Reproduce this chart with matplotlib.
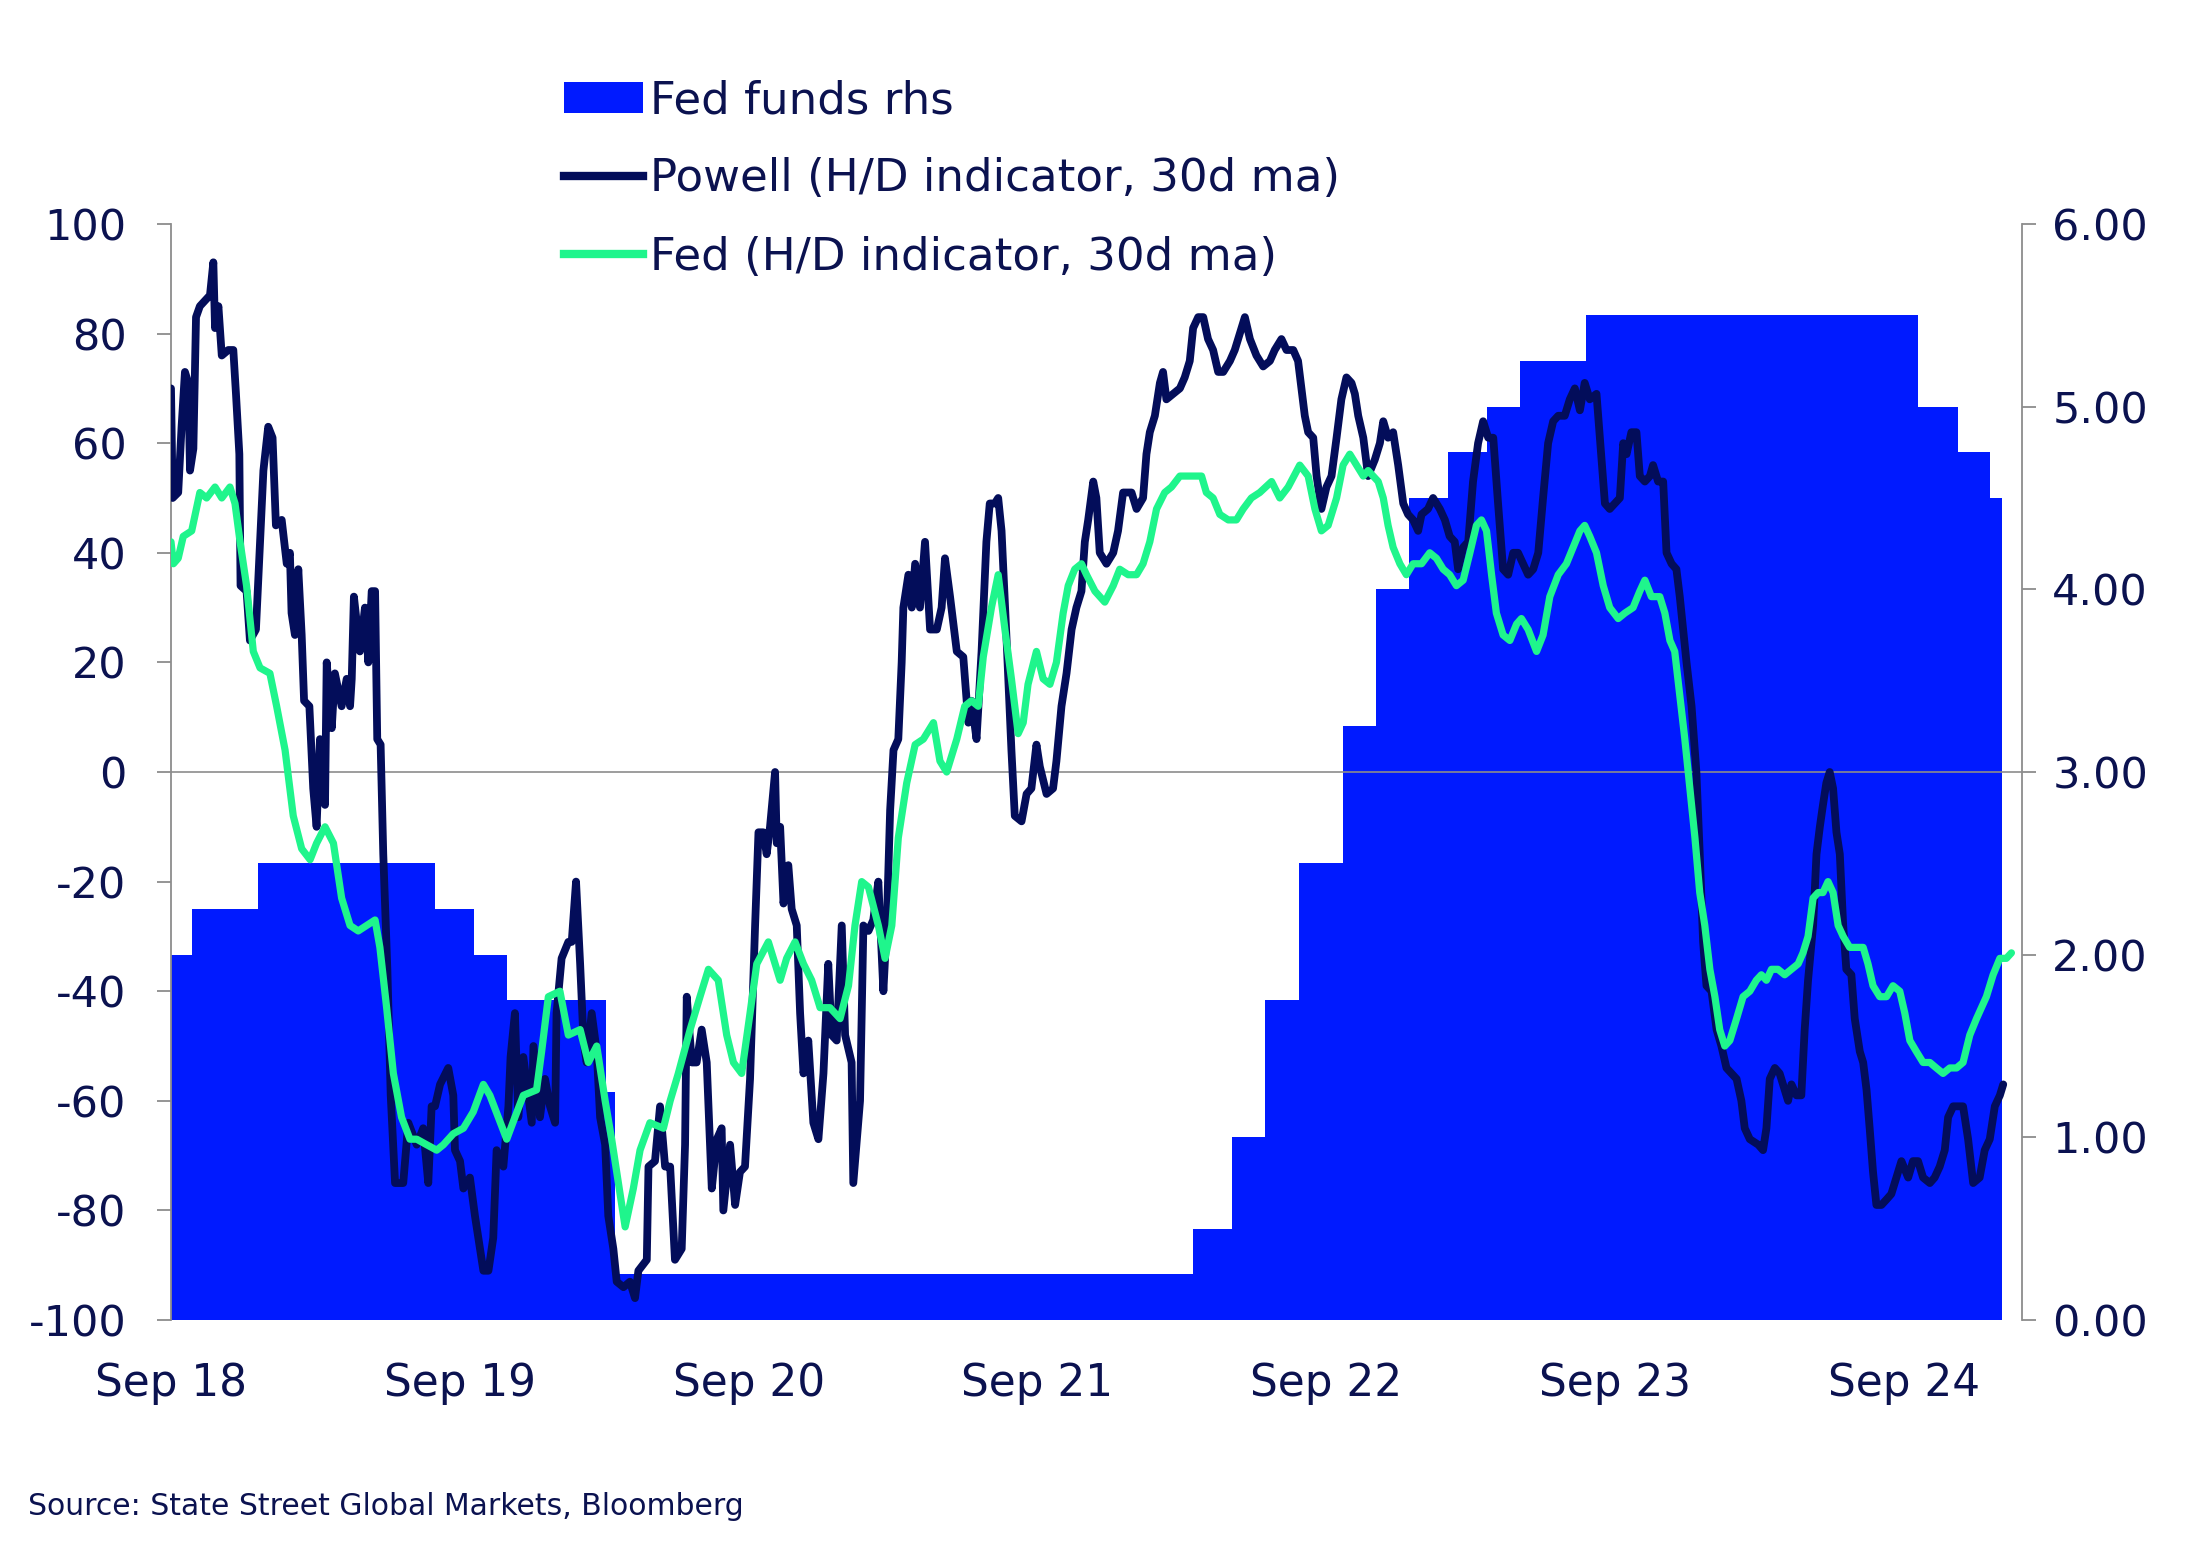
"""
Powell / Fed hawk-dove indicator vs Fed funds target (upper bound)
"""
import numpy as np
import pandas as pd
import matplotlib
matplotlib.use('Agg')
import matplotlib.pyplot as plt
from matplotlib.patches import Patch
from matplotlib.lines import Line2D

NAVY = '#030d5a'
BLUE = '#001aff'
GREEN = '#1ff58c'
GREY = '#8c8c8c'
TEXT = '#0b1250'

# months since 1 Sep 2018
powell_m = [0.00, 0.07, 0.30, 0.44, 0.58, 0.72, 0.79, 0.93, 1.04, 1.20, 1.41, 1.62, 1.76, 1.83, 1.97,
            2.11, 2.38, 2.59, 2.70, 2.84, 2.89, 3.14, 3.28, 3.53, 3.70, 3.84, 4.04, 4.22, 4.36, 4.60,
            4.81, 4.94, 5.01, 5.15, 5.29, 5.43, 5.53, 5.75, 5.91, 6.05, 6.19, 6.40, 6.47, 6.68, 6.81,
            7.09, 7.30, 7.44, 7.51, 7.60, 7.85, 8.06, 8.20, 8.34, 8.48, 8.57, 8.71, 8.82, 8.99, 9.13,
            9.31, 9.65, 9.86, 10.21, 10.48, 10.69, 10.83, 10.97, 11.18, 11.52, 11.73, 11.80, 12.01,
            12.15, 12.42, 12.63, 12.84, 12.98, 13.19, 13.39, 13.53, 13.81, 14.02, 14.11, 14.29, 14.43,
            14.64, 14.99, 15.06, 15.33, 15.54, 15.75, 15.96, 16.02, 16.23, 16.51, 16.65, 16.83, 17.00,
            17.14, 17.27, 17.48, 17.69, 17.83, 18.04, 18.17, 18.38, 18.52, 18.80, 19.07, 19.28, 19.42,
            19.77, 19.84, 20.11, 20.32, 20.53, 20.74, 20.94, 21.22, 21.36, 21.43, 21.64, 21.84, 22.05,
            22.26, 22.47, 22.68, 22.88, 22.95, 23.23, 23.44, 23.64, 23.85, 24.06, 24.27, 24.41, 24.61,
            24.75, 24.89, 25.10, 25.17, 25.31, 25.45, 25.65, 25.79, 26.00, 26.14, 26.28, 26.48, 26.69,
            26.90, 27.11, 27.31, 27.45, 27.66, 27.87, 28.01, 28.28, 28.35, 28.63, 28.77, 28.98, 29.18,
            29.39, 29.60, 29.74, 29.88, 30.02, 30.22, 30.36, 30.43, 30.64, 30.78, 30.92, 31.12, 31.33,
            31.54, 31.82, 32.02, 32.16, 32.37, 32.65, 32.92, 33.13, 33.26, 33.47, 33.68, 33.88, 34.02,
            34.23, 34.37, 34.51, 34.71, 34.92, 35.06, 35.34, 35.55, 35.75, 35.96, 36.10, 36.38, 36.65,
            36.79, 37.00, 37.21, 37.42, 37.62, 37.83, 37.97, 38.11, 38.32, 38.45, 38.59, 38.87, 39.15,
            39.35, 39.56, 39.91, 40.12, 40.39, 40.53, 40.67, 40.88, 41.09, 41.22, 41.36, 41.64, 41.92,
            42.12, 42.33, 42.47, 42.68, 42.89, 43.09, 43.30, 43.51, 43.72, 44.00, 44.20, 44.48, 44.62,
            44.83, 45.10, 45.38, 45.66, 45.86, 46.14, 46.35, 46.63, 46.83, 46.97, 47.11, 47.25, 47.46,
            47.60, 47.80, 48.01, 48.22, 48.43, 48.63, 48.84, 49.05, 49.19, 49.33, 49.54, 49.74, 50.02,
            50.23, 50.37, 50.57, 50.78, 50.99, 51.20, 51.40, 51.61, 51.82, 51.96, 52.23, 52.44, 52.72,
            52.93, 53.13, 53.34, 53.48, 53.69, 53.90, 54.10, 54.31, 54.52, 54.73, 54.94, 55.14, 55.35,
            55.56, 55.77, 55.97, 56.18, 56.39, 56.60, 56.81, 57.01, 57.22, 57.43, 57.64, 57.91, 58.12,
            58.33, 58.54, 58.74, 58.95, 59.23, 59.37, 59.58, 59.78, 59.99, 60.20, 60.34, 60.48, 60.68,
            60.89, 61.03, 61.24, 61.45, 61.58, 61.79, 62.00, 62.14, 62.35, 62.55, 62.69, 62.83, 62.97,
            63.18, 63.38, 63.52, 63.66, 63.80, 64.01, 64.22, 64.42, 64.63, 64.84, 65.05, 65.25, 65.39,
            65.60, 65.95, 66.15, 66.29, 66.43, 66.64, 66.84, 67.05, 67.19, 67.33, 67.54, 67.74, 67.88,
            68.02, 68.23, 68.37, 68.51, 68.64, 68.78, 68.92, 69.06, 69.20, 69.34, 69.48, 69.61, 69.82,
            69.96, 70.17, 70.31, 70.45, 70.58, 70.72, 70.86, 71.07, 71.28, 71.48, 71.69, 71.90, 72.18,
            72.38, 72.59, 72.80, 73.08, 73.28, 73.49, 73.70, 73.84, 74.05, 74.25, 74.46, 74.67, 74.88,
            75.15, 75.36, 75.57, 75.78, 75.99, 76.13]
powell_v = [70, 50, 51, 63, 73, 71, 55, 59, 83, 85, 86, 87, 93, 81, 85,
            76, 77, 77, 69, 58, 34, 33, 24, 26, 42, 55, 63, 61, 45, 46,
            38, 40, 29, 25, 37, 25, 13, 12, -3, -10, 6, -6, 20, 8, 18,
            12, 17, 12, 17, 32, 22, 30, 20, 33, 33, 6, 5, -15, -36, -59,
            -75, -75, -64, -68, -65, -75, -61, -61, -57, -54, -59, -69, -71,
            -76, -74, -81, -87, -91, -91, -85, -69, -72, -61, -52, -44, -63,
            -52, -64, -50, -63, -56, -61, -64, -44, -34, -31, -31, -20, -35,
            -49, -53, -44, -51, -63, -68, -81, -87, -93, -94, -93, -96, -91,
            -89, -72, -71, -61, -72, -72, -89, -87, -68, -41, -53, -53, -47,
            -53, -76, -67, -65, -80, -68, -79, -73, -72, -56, -28, -11, -11,
            -15, -10, 0, -13, -10, -24, -17, -25, -28, -44, -55, -49, -64,
            -67, -55, -35, -48, -49, -28, -48, -53, -75, -60, -28, -29, -27,
            -20, -40, -28, -7, 4, 6, 20, 30, 36, 30, 38, 30, 42,
            26, 26, 30, 39, 32, 22, 21, 9, 13, 6, 22, 42, 49,
            49, 50, 44, 25, 4, -8, -9, -4, -3, 5, 1, -4, -3,
            2, 12, 18, 26, 30, 33, 42, 46, 53, 50, 40, 38, 40,
            44, 51, 51, 48, 50, 58, 62, 65, 71, 73, 68, 69, 70,
            72, 75, 81, 83, 83, 79, 77, 73, 73, 75, 77, 81, 83,
            79, 76, 74, 75, 77, 79, 77, 77, 75, 70, 65, 62, 61,
            54, 48, 52, 54, 61, 68, 72, 71, 69, 65, 61, 54, 57,
            60, 64, 61, 62, 56, 49, 47, 46, 44, 47, 48, 50, 48,
            46, 43, 42, 37, 41, 42, 53, 60, 64, 61, 61, 49, 37,
            36, 40, 40, 38, 36, 37, 40, 50, 60, 64, 65, 65, 68,
            70, 66, 71, 68, 69, 61, 49, 48, 49, 50, 60, 58, 62,
            62, 54, 53, 54, 56, 53, 53, 40, 38, 37, 32, 26, 20,
            12, 0, -15, -31, -39, -40, -47, -50, -54, -55, -56, -60, -65,
            -67, -68, -69, -65, -56, -54, -55, -58, -60, -57, -59, -59, -47,
            -38, -28, -15, -10, -6, -2, 0, -3, -11, -15, -28, -36, -37,
            -45, -51, -53, -58, -65, -73, -79, -79, -78, -77, -74, -71, -74,
            -71, -71, -74, -75, -74, -72, -69, -63, -61, -61, -61, -67, -75,
            -74, -69, -67, -61, -59, -57]

fed_m = [0.00, 0.10, 0.30, 0.51, 0.86, 1.20, 1.48, 1.83, 2.11, 2.45, 2.66, 2.87, 3.14, 3.42, 3.70,
         4.11, 4.39, 4.74, 5.08, 5.43, 5.78, 6.05, 6.40, 6.75, 7.09, 7.44, 7.78, 8.13, 8.48, 8.68,
         8.96, 9.24, 9.58, 9.93, 10.21, 10.62, 11.04, 11.32, 11.73, 12.15, 12.56, 12.98, 13.25, 13.60,
         13.95, 14.29, 14.64, 15.19, 15.40, 15.68, 16.16, 16.51, 17.00, 17.34, 17.69, 18.04, 18.31,
         18.59, 18.87, 19.21, 19.49, 19.90, 20.46, 20.74, 21.08, 21.57, 21.98, 22.33, 22.74, 23.09,
         23.37, 23.71, 24.06, 24.34, 24.82, 25.31, 25.58, 25.93, 26.28, 26.62, 26.97, 27.38, 27.80,
         28.15, 28.42, 28.70, 28.98, 29.39, 29.67, 29.95, 30.22, 30.57, 30.92, 31.26, 31.68, 31.95,
         32.23, 32.65, 32.98, 33.26, 33.54, 33.75, 34.09, 34.37, 34.65, 34.92, 35.20, 35.41, 35.61,
         35.96, 36.24, 36.52, 36.79, 37.07, 37.28, 37.55, 37.83, 38.04, 38.39, 38.80, 39.15, 39.42,
         39.77, 40.12, 40.39, 40.67, 40.95, 41.29, 41.57, 41.92, 42.33, 42.82, 43.02, 43.30, 43.58,
         43.93, 44.27, 44.55, 44.89, 45.24, 45.73, 46.07, 46.42, 46.90, 47.25, 47.53, 47.80, 48.08,
         48.43, 48.70, 48.98, 49.26, 49.54, 49.74, 50.16, 50.37, 50.57, 50.78, 51.06, 51.33, 51.61,
         51.96, 52.30, 52.58, 52.86, 53.13, 53.41, 53.69, 53.97, 54.24, 54.45, 54.66, 54.87, 55.07,
         55.35, 55.63, 55.91, 56.11, 56.39, 56.74, 57.01, 57.29, 57.64, 57.98, 58.26, 58.54, 58.74,
         58.95, 59.23, 59.51, 59.78, 60.13, 60.41, 60.75, 61.03, 61.24, 61.51, 61.86, 62.07, 62.28,
         62.48, 62.69, 62.90, 63.11, 63.32, 63.52, 63.73, 63.94, 64.15, 64.35, 64.56, 64.77, 65.05,
         65.32, 65.60, 65.87, 66.08, 66.29, 66.50, 66.77, 67.05, 67.33, 67.61, 67.81, 68.02, 68.23,
         68.44, 68.64, 68.85, 69.06, 69.27, 69.48, 69.75, 70.03, 70.31, 70.51, 70.72, 71.00, 71.28,
         71.55, 71.83, 72.04, 72.25, 72.52, 72.80, 73.08, 73.35, 73.63, 73.91, 74.19, 74.46, 74.74,
         75.02, 75.43, 75.71, 75.99, 76.26, 76.47]
fed_v = [42, 38, 39, 43, 44, 51, 50, 52, 50, 52, 49, 42, 34, 22, 19,
         18, 12, 4, -8, -14, -16, -13, -10, -13, -23, -28, -29, -28, -27, -32,
         -43, -55, -63, -67, -67, -68, -69, -68, -66, -65, -62, -57, -59, -63,
         -67, -63, -59, -58, -51, -41, -40, -48, -47, -53, -50, -60, -67,
         -75, -83, -76, -69, -64, -65, -60, -55, -47, -41, -36, -38, -48,
         -53, -55, -44, -35, -31, -38, -34, -31, -35, -38, -43, -43, -45,
         -39, -28, -20, -21, -28, -34, -28, -12, -2, 5, 6, 9, 2,
         0, 6, 12, 13, 12, 21, 30, 36, 26, 17, 7, 9, 16,
         22, 17, 16, 20, 29, 34, 37, 38, 36, 33, 31, 34, 37,
         36, 36, 38, 42, 48, 51, 52, 54, 54, 54, 51, 50, 47,
         46, 46, 48, 50, 51, 53, 50, 52, 56, 54, 48, 44, 45,
         50, 56, 58, 56, 54, 55, 53, 50, 45, 41, 38, 36, 38,
         38, 40, 39, 37, 36, 34, 35, 40, 45, 46, 44, 36, 29,
         25, 24, 27, 28, 26, 22, 25, 32, 36, 38, 41, 44, 45,
         43, 40, 34, 30, 28, 29, 30, 33, 35, 32, 32, 29, 24,
         22, 14, 6, -3, -12, -22, -28, -36, -41, -47, -50, -49, -45,
         -41, -40, -38, -37, -38, -36, -36, -37, -36, -35, -33, -30, -23,
         -22, -22, -20, -22, -28, -30, -32, -32, -32, -35, -39, -41, -41,
         -39, -40, -44, -49, -51, -53, -53, -54, -55, -54, -54, -53, -48,
         -45, -41, -37, -34, -34, -33]

# Fed funds target, upper bound (rhs)
rate_dates = ['2018-09-01', '2018-09-27', '2018-12-20', '2019-08-01', '2019-09-19', '2019-10-31',
              '2020-03-04', '2020-03-16', '2022-03-17', '2022-05-05', '2022-06-16', '2022-07-28',
              '2022-09-22', '2022-11-03', '2022-12-15', '2023-02-02', '2023-03-23', '2023-05-04',
              '2023-07-27', '2024-09-19', '2024-11-08', '2024-12-19', '2025-01-03']
rate_values = [2.00, 2.25, 2.50, 2.25, 2.00, 1.75, 1.25, 0.25, 0.50, 1.00, 1.75, 2.50,
               3.25, 4.00, 4.50, 4.75, 5.00, 5.25, 5.50, 5.00, 4.75, 4.50, 4.50]

tick_labels = ['Sep 18', 'Sep 19', 'Sep 20', 'Sep 21', 'Sep 22', 'Sep 23', 'Sep 24']

start = pd.Timestamp('2018-09-01')
rate_m = [(pd.Timestamp(d) - start).days / 30.4375 for d in rate_dates]

plt.rcParams['font.family'] = ['DejaVu Sans']
plt.rcParams['axes.unicode_minus'] = False

fig = plt.figure(figsize=(22.12, 15.51), dpi=100)
ax1 = fig.add_axes([0.0773, 0.1489, 0.914 - 0.0773, 0.8556 - 0.1489])
ax2 = ax1.twinx()
ax1.set_zorder(ax2.get_zorder() + 1)
ax1.patch.set_visible(False)

ax2.fill_between(rate_m, rate_values, 0, step='post', color=BLUE, linewidth=0)
ax2.set_ylim(0, 6)
ax2.set_yticks(np.arange(0, 7, 1))
ax2.set_yticklabels(['%.2f' % t for t in np.arange(0, 7, 1)])

ax1.axhline(0, color=GREY, linewidth=1.2, zorder=1)
ax1.plot(powell_m, powell_v, color=NAVY, linewidth=5.6, solid_joinstyle='round',
         solid_capstyle='round', zorder=3)
ax1.plot(fed_m, fed_v, color=GREEN, linewidth=5.2, solid_joinstyle='round',
         solid_capstyle='round', zorder=4)
ax1.set_ylim(-100, 100)
ax1.set_yticks(np.arange(-100, 101, 20))
ax1.set_xlim(0, 76.9)
ax1.set_xticks(np.arange(0, 73, 12))
ax1.set_xticklabels(tick_labels)

for a in (ax1, ax2):
    a.spines['top'].set_visible(False)
    a.spines['bottom'].set_visible(False)
    a.spines['left'].set_color(GREY)
    a.spines['right'].set_color(GREY)
    a.spines['left'].set_linewidth(1.3)
    a.spines['right'].set_linewidth(1.3)
ax2.spines['left'].set_visible(False)
ax1.spines['right'].set_visible(False)
ax1.tick_params(axis='y', colors=GREY, labelcolor=TEXT, labelsize=31, length=10, width=1.3, pad=22)
ax2.tick_params(axis='y', colors=GREY, labelcolor=TEXT, labelsize=31, length=10, width=1.3, pad=12)
ax1.tick_params(axis='x', length=0, labelsize=31.5, labelcolor=TEXT, pad=30)

handles = [Patch(facecolor=BLUE, edgecolor='none'),
           Line2D([], [], color=NAVY, linewidth=6),
           Line2D([], [], color=GREEN, linewidth=6)]
labels = ['Fed funds rhs', 'Powell (H/D indicator, 30d ma)', 'Fed (H/D indicator, 30d ma)']
fig.legend(handles, labels, loc='upper left', bbox_to_anchor=(0.255, 0.949), frameon=False,
           fontsize=32.5, labelcolor=TEXT, handlelength=1.75, handleheight=0.7, handletextpad=0.15,
           labelspacing=0.78, borderpad=0, borderaxespad=0)

fig.text(0.0128, 0.0285, 'Source: State Street Global Markets, Bloomberg', fontsize=21.5,
         color=TEXT, va='center', ha='left')

plt.savefig('out.png', dpi=100)
